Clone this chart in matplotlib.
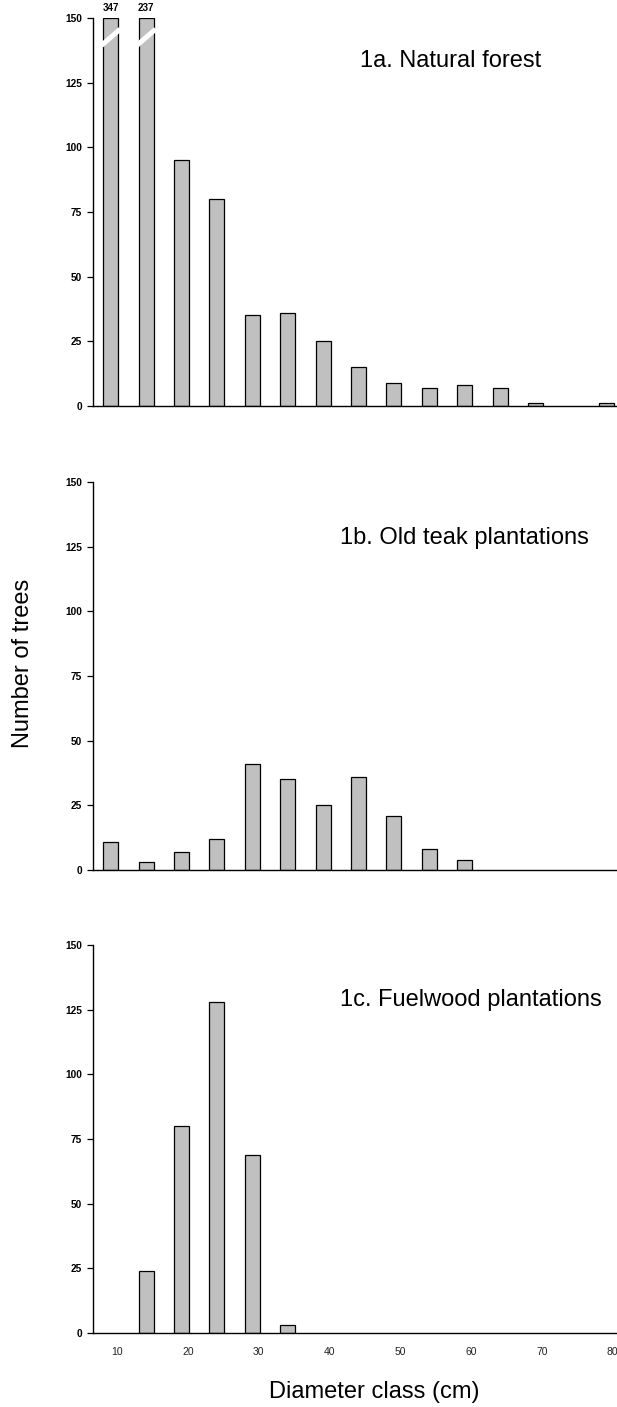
import matplotlib
matplotlib.use("Agg")
import matplotlib.pyplot as plt
import matplotlib.transforms as mtransforms
import numpy as np

# Diameter classes (cm) and tree counts per class
diameter_classes = [10, 15, 20, 25, 30, 35, 40, 45, 50, 55, 60, 65, 70, 75, 80]
natural_forest = [347, 237, 95, 80, 35, 36, 25, 15, 9, 7, 8, 7, 1, 0, 1]
old_teak = [11, 3, 7, 12, 41, 35, 25, 36, 21, 8, 4, 0, 0, 0, 0]
fuelwood = [0, 24, 80, 128, 69, 3, 0, 0, 0, 0, 0, 0, 0, 0, 0]

panel_titles = ["1a. Natural forest", "1b. Old teak plantations", "1c. Fuelwood plantations"]
y_ticks = [0, 25, 50, 75, 100, 125, 150]
x_tick_values = [10, 20, 30, 40, 50, 60, 70, 80]

Y_MAX = 150
W, H = 617, 1407
DPI = 100

plt.rcParams["font.family"] = ["Liberation Sans", "DejaVu Sans"]

fig = plt.figure(figsize=(W / DPI, H / DPI), dpi=DPI)
fig.patch.set_facecolor("white")

# pixel geometry of the three stacked panels
left_px = 93
right_px = 624
panel_h = 388
panel_bottoms_px = [406, 870, 1333]
title_pos_px = [(360, 61), (340, 538), (340, 1000)]

series = [natural_forest, old_teak, fuelwood]
x = np.array(diameter_classes, dtype=float)

for i, (vals, bottom_px) in enumerate(zip(series, panel_bottoms_px)):
    ax = fig.add_axes([left_px / W, 1 - bottom_px / H,
                       (right_px - left_px) / W, panel_h / H])
    vals = np.array(vals, dtype=float)
    heights = np.minimum(vals, Y_MAX)
    shown = vals > 0
    ax.bar(x[shown], heights[shown], width=2.1, color="#c0c0c0",
           edgecolor="black", linewidth=0.9, zorder=2)

    # classes exceeding the axis range: broken bar with its true count on top
    for xc, v in zip(x, vals):
        if v > Y_MAX:
            ax.plot([xc - 1.35, xc + 1.35], [139.3, 145.7], color="white",
                    lw=3.6, solid_capstyle="butt", zorder=4, clip_on=False)
            ax.text(xc, Y_MAX + 2.0, f"{int(v)}", ha="center", va="bottom",
                    fontsize=7, fontweight="bold")

    ax.set_xlim(7.5, 82.5)
    ax.set_ylim(0, Y_MAX)
    ax.set_yticks(y_ticks)
    ax.set_yticklabels([str(t) for t in y_ticks], fontsize=7.3,
                       fontweight="bold")
    ax.tick_params(axis="y", direction="out", length=4, width=0.9, pad=4,
                   color="black")

    for side in ("top", "right"):
        ax.spines[side].set_visible(False)
    for side in ("left", "bottom"):
        ax.spines[side].set_linewidth(1.0)
        ax.spines[side].set_color("black")

    if i == 2:
        ax.set_xticks(x_tick_values)
        ax.set_xticklabels([str(t) for t in x_tick_values], fontsize=7.5,
                           color="#222222")
        ax.tick_params(axis="x", length=0, pad=10)
        shift = mtransforms.ScaledTranslation(6.5 / DPI, 0, fig.dpi_scale_trans)
        for lbl in ax.get_xticklabels():
            lbl.set_transform(lbl.get_transform() + shift)
    else:
        ax.set_xticks([])

    tx, ty = title_pos_px[i]
    fig.text(tx / W, 1 - ty / H, panel_titles[i], ha="left", va="center",
             fontsize=17)

fig.text(23 / W, 1 - 663 / H, "Number of trees", rotation=90,
         ha="center", va="center", fontsize=17)
fig.text(374 / W, 1 - 1392 / H, "Diameter class (cm)", ha="center",
         va="center", fontsize=17)

fig.savefig("out.png", dpi=DPI, facecolor="white")
